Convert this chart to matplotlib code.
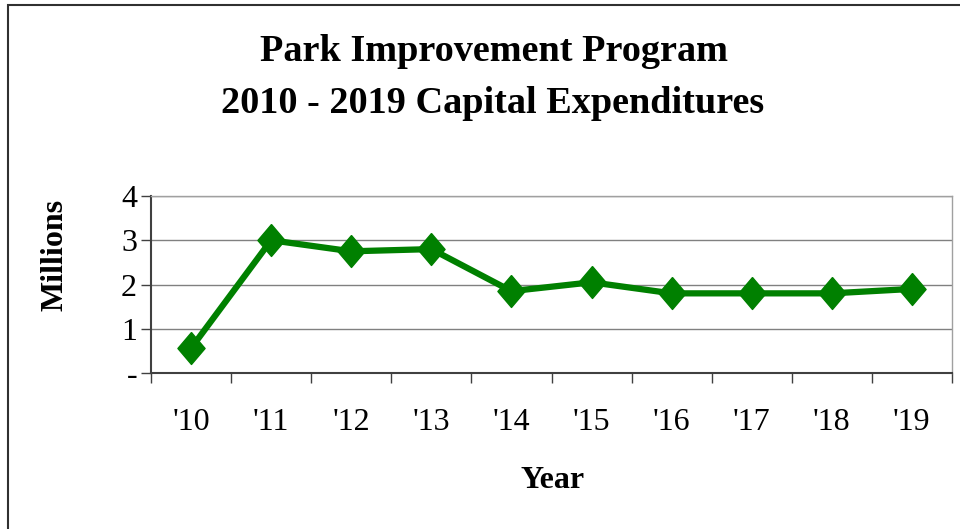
import matplotlib
matplotlib.use("Agg")
import matplotlib.pyplot as plt
from matplotlib.patches import Rectangle

# chart data (millions of dollars)
years = ["'10", "'11", "'12", "'13", "'14", "'15", "'16", "'17", "'18", "'19"]
spend = [0.56, 3.0, 2.75, 2.8, 1.85, 2.05, 1.8, 1.8, 1.8, 1.9]
ytick_vals = [0, 1, 2, 3, 4]
ytick_labels = ["-", "1", "2", "3", "4"]

plt.rcParams["font.family"] = ["Liberation Serif", "DejaVu Serif"]

fig = plt.figure(figsize=(9.6, 5.29), dpi=100)
ax = fig.add_axes([151 / 960, 1 - 373 / 529, (952 - 151) / 960, (373 - 196) / 529])

x = list(range(len(years)))
diamond = [(0, 1), (0.85, 0), (0, -1), (-0.85, 0), (0, 1)]
ax.plot(x, spend, color="#008000", lw=4.5, marker=diamond, ms=23,
        mfc="#008000", mec="#008000", solid_joinstyle="miter", zorder=3,
        clip_on=False)

ax.set_xlim(-0.5, len(years) - 0.5)
ax.set_ylim(0, 4)

# major x ticks at category boundaries, labels at centers
ax.set_xticks([i - 0.5 for i in range(len(years) + 1)])
ax.set_xticklabels([])
ax.set_xticks(x, minor=True)
ax.set_xticklabels(years, minor=True, fontsize=23)
ax.tick_params(axis="x", which="major", direction="out", length=7, width=1,
               color="#404040")
ax.tick_params(axis="x", which="minor", length=0, pad=25)

ax.set_yticks(ytick_vals)
ax.set_yticklabels(ytick_labels, fontsize=23)
ax.tick_params(axis="y", direction="out", length=7, width=1, color="#404040",
               pad=3)

ax.grid(axis="y", color="#808080", lw=1)
ax.set_axisbelow(True)
for side in ("top", "right"):
    ax.spines[side].set_color("#a0a0a0")
    ax.spines[side].set_linewidth(1)
for side in ("left", "bottom"):
    ax.spines[side].set_color("#404040")
    ax.spines[side].set_linewidth(1.5)

fig.text(494 / 960, 1 - 61 / 529, "Park Improvement Program", ha="center",
         va="baseline", fontsize=27.5, fontweight="bold")
fig.text(493 / 960, 1 - 113 / 529, "2010 - 2019 Capital Expenditures",
         ha="center", va="baseline", fontsize=27.5, fontweight="bold")
fig.text(55 / 960, 1 - 255 / 529, "Millions", rotation=90, ha="center",
         va="center", fontsize=23, fontweight="bold")
fig.text(553 / 960, 1 - 480 / 529, "Year", ha="center", va="center",
         fontsize=23, fontweight="bold")

# outer chart border (cropped on the right and bottom)
fig.patches.append(Rectangle((8 / 960, -0.05), 1.2, 1 - 5 / 529 + 0.05,
                             transform=fig.transFigure, fill=False,
                             edgecolor="#303030", lw=1.5))

fig.savefig("out.png", dpi=100)
